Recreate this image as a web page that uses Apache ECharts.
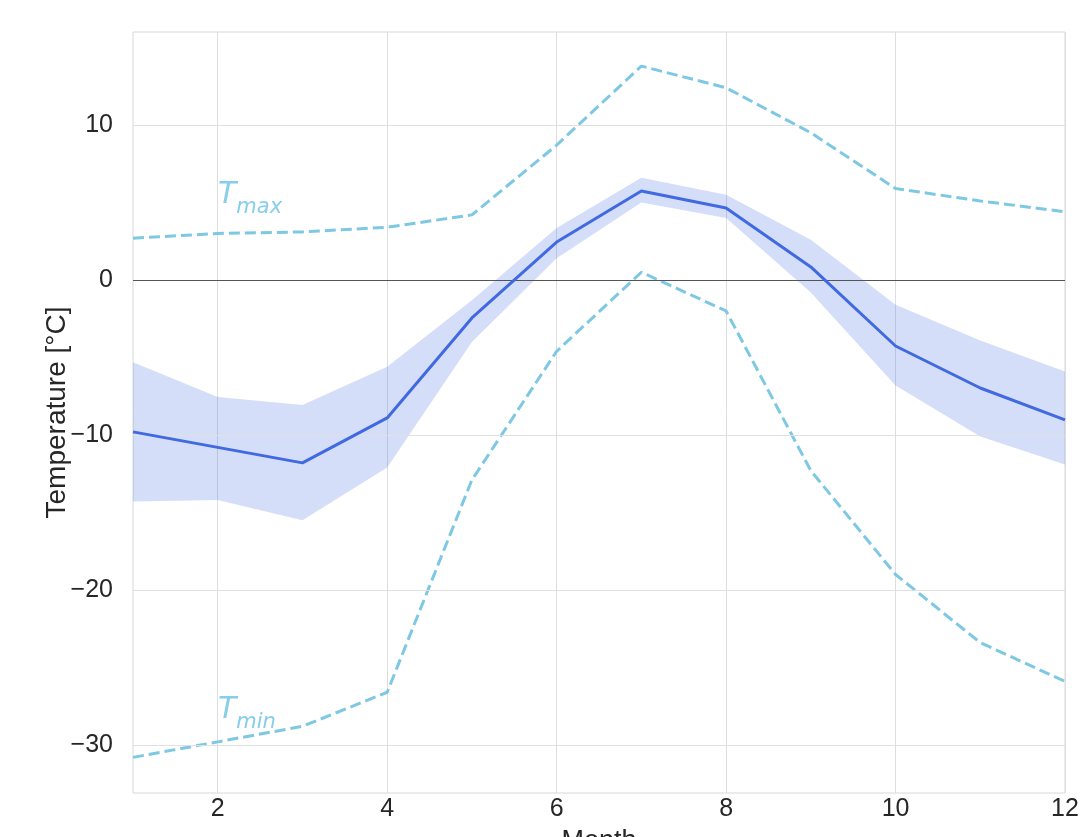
<!DOCTYPE html>
<html><head><meta charset="utf-8">
<script src="https://cdn.jsdelivr.net/npm/echarts@6/dist/echarts.min.js"></script>
<style>html,body{margin:0;padding:0;background:#fff}#c{width:1088px;height:837px}</style>
</head><body><div id="c"></div>
<script>
const months = ['1','2','3','4','5','6','7','8','9','10','11','12'];
const meanT = [-9.8,-10.8,-11.8,-8.9,-2.45,2.45,5.74,4.65,0.84,-4.26,-6.97,-9.03];
const bandLow = [-14.3,-14.2,-15.5,-12.1,-4.0,1.4,5.0,4.0,-0.8,-6.8,-10.1,-11.9];
const bandHigh = [-5.3,-7.55,-8.06,-5.6,-1.3,3.35,6.6,5.5,2.6,-1.6,-3.9,-5.9];
const tMax = [2.7,3.0,3.1,3.4,4.2,8.7,13.8,12.4,9.5,5.9,5.1,4.4];
const tMin = [-30.8,-29.8,-28.8,-26.6,-12.9,-4.6,0.5,-2.0,-12.3,-19.0,-23.4,-25.9];
const yTicks = [-30,-20,-10,0,10];

const bandDiff = bandHigh.map((v,i)=>+(v-bandLow[i]).toFixed(3));
const chart = echarts.init(document.getElementById('c'));
const font = "'Liberation Sans', Arial, sans-serif";
const labelRich = {
  t:{fontFamily:"'DejaVu Sans'",fontStyle:'italic',fontSize:30,fill:'#87CEEB',verticalAlign:'bottom'},
  s:{fontFamily:"'DejaVu Sans'",fontStyle:'italic',fontSize:21,fill:'#87CEEB',verticalAlign:'bottom',padding:[0,0,-8,0]}
};
chart.setOption({
  animation:false,
  backgroundColor:'#fff',
  grid:{left:133,right:23,top:32,bottom:44,outerBoundsMode:'none',containLabel:false,
    show:true,borderColor:'#d8d8d8',borderWidth:1,backgroundColor:'#fff'},
  xAxis:{type:'category',data:months,boundaryGap:false,
    name:'Month',nameLocation:'middle',nameGap:35,nameMoveOverlap:false,
    nameTextStyle:{fontFamily:font,fontSize:27,color:'#262626',verticalAlign:'top'},
    axisLine:{show:false},axisTick:{show:false},
    axisLabel:{interval:(i)=>i%2===1,fontFamily:font,fontSize:25,color:'#262626',margin:4},
    splitLine:{show:true,interval:(i)=>i%2===1,lineStyle:{color:'#dedede',width:1}}
  },
  yAxis:{type:'value',min:-33.1,max:16,
    name:'Temperature [°C]',nameLocation:'middle',nameGap:62,nameMoveOverlap:false,
    nameTextStyle:{fontFamily:font,fontSize:28,color:'#262626'},
    axisLine:{show:false},
    axisLabel:{customValues:yTicks,fontFamily:font,fontSize:25,color:'#262626',margin:20,
      formatter:(v)=>String(v).replace('-','\u2212')},
    axisTick:{show:false,customValues:yTicks},
    splitLine:{show:false}
  },
  series:[
    {type:'line',data:yTicks.map(()=>null),silent:true,showSymbol:false,
     markLine:{silent:true,symbol:'none',label:{show:false},
       lineStyle:{color:'#e0e0e0',width:1,type:'solid'},
       data:yTicks.filter(v=>v!==0).map(v=>({yAxis:v}))}},
    {type:'line',data:bandLow,stack:'band',stackStrategy:'all',showSymbol:false,silent:true,
     lineStyle:{width:0,opacity:0}},
    {type:'line',data:bandDiff,stack:'band',stackStrategy:'all',showSymbol:false,silent:true,
     lineStyle:{width:0,opacity:0},areaStyle:{color:'rgba(65,105,225,0.22)',opacity:1}},
    {type:'line',data:meanT,showSymbol:false,lineStyle:{color:'#4169E1',width:3},z:5,
     markLine:{silent:true,symbol:'none',label:{show:false},
       lineStyle:{color:'#555',width:1,type:'solid'},data:[{yAxis:0}]}},
    {type:'line',data:tMax,showSymbol:false,lineStyle:{color:'#7EC8E3',width:3,type:[11,5]},z:4},
    {type:'line',data:tMin,showSymbol:false,lineStyle:{color:'#7EC8E3',width:3,type:[11,5]},z:4}
  ],
  graphic:[
    {type:'text',left:218,top:180,style:{text:'{t|T}{s|max}',rich:labelRich}},
    {type:'text',left:218,top:695,style:{text:'{t|T}{s|min}',rich:labelRich}}
  ]
});
</script></body></html>
